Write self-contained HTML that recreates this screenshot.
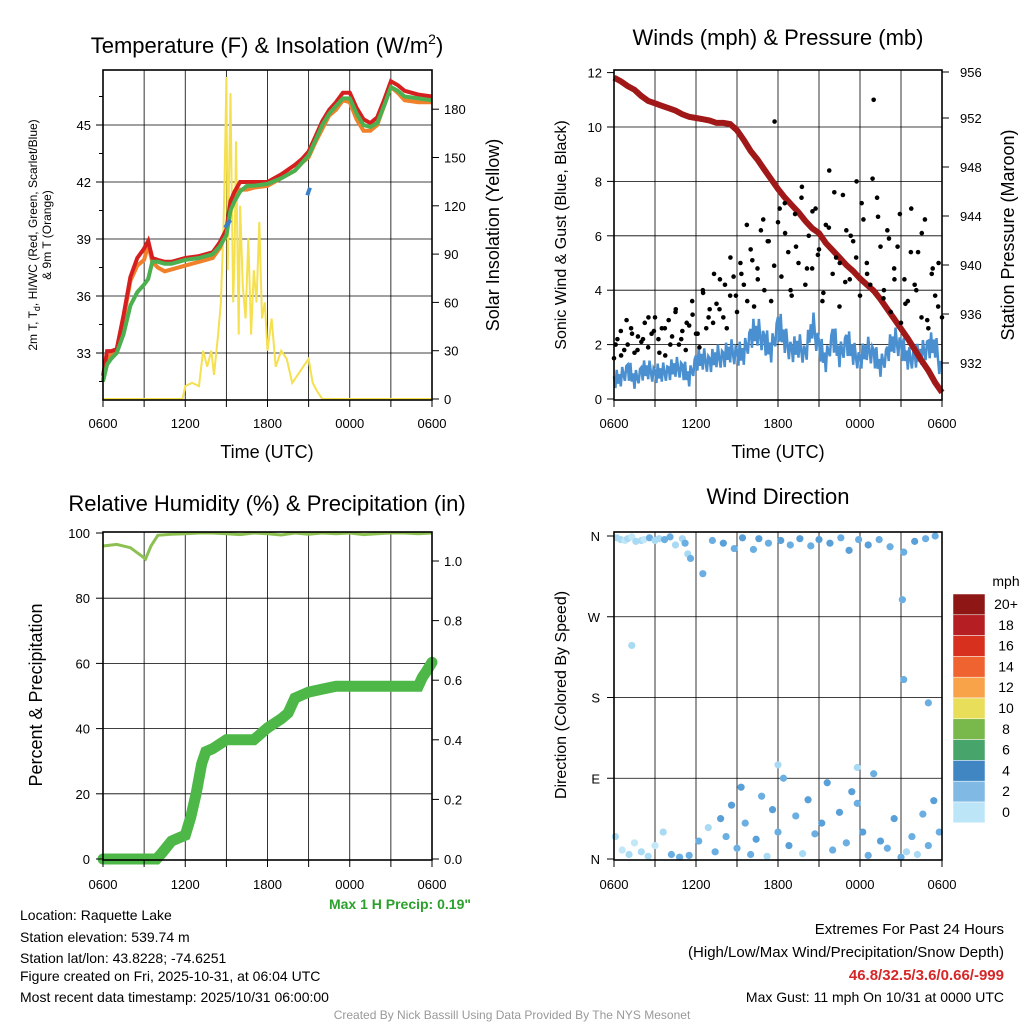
<!DOCTYPE html>
<html><head><meta charset="utf-8"><style>
body{margin:0;background:#fff}
svg{display:block;font-family:"Liberation Sans",sans-serif}
</style></head><body>
<svg id="s" width="1024" height="1024" viewBox="0 0 1024 1024">
<rect width="1024" height="1024" fill="#fff"/>
<g id="g"></g>
<text x="267" y="53" font-size="22" text-anchor="middle">Temperature (F) &amp; Insolation (W/m<tspan dy="-9" font-size="14">2</tspan><tspan dy="9">)</tspan></text>
<text x="778" y="45" font-size="22" text-anchor="middle">Winds (mph) &amp; Pressure (mb)</text>
<text x="267" y="511" font-size="22" text-anchor="middle">Relative Humidity (%) &amp; Precipitation (in)</text>
<text x="778" y="504" font-size="22" text-anchor="middle">Wind Direction</text>
<text x="267" y="458" font-size="18" text-anchor="middle">Time (UTC)</text>
<text x="778" y="458" font-size="18" text-anchor="middle">Time (UTC)</text>
<text transform="translate(37,235) rotate(-90)" font-size="12" text-anchor="middle">2m T, T<tspan font-size="9" dy="3">d</tspan><tspan dy="-3">, HI/WC (Red, Green, Scarlet/Blue)</tspan></text>
<text transform="translate(51,235) rotate(-90)" font-size="12" text-anchor="middle">&amp; 9m T (Orange)</text>
<text transform="translate(499,235) rotate(-90)" font-size="18" text-anchor="middle">Solar Insolation (Yellow)</text>
<text transform="translate(566,235) rotate(-90)" font-size="16" text-anchor="middle">Sonic Wind &amp; Gust (Blue, Black)</text>
<text transform="translate(1014,235) rotate(-90)" font-size="18" text-anchor="middle">Station Pressure (Maroon)</text>
<text transform="translate(42,695) rotate(-90)" font-size="18" text-anchor="middle">Percent &amp; Precipitation</text>
<text transform="translate(566,695) rotate(-90)" font-size="16" text-anchor="middle">Direction (Colored By Speed)</text>
<text x="471" y="909" font-size="14" font-weight="bold" fill="#2ca02c" text-anchor="end">Max 1 H Precip: 0.19"</text>
<g font-size="14">
<text x="20" y="920">Location: Raquette Lake</text>
<text x="20" y="942">Station elevation: 539.74 m</text>
<text x="20" y="963">Station lat/lon: 43.8228; -74.6251</text>
<text x="20" y="981">Figure created on Fri, 2025-10-31, at 06:04 UTC</text>
<text x="20" y="1002">Most recent data timestamp: 2025/10/31 06:00:00</text>
</g>
<g font-size="15" text-anchor="end">
<text x="1004" y="934">Extremes For Past 24 Hours</text>
<text x="1004" y="957">(High/Low/Max Wind/Precipitation/Snow Depth)</text>
<text x="1004" y="980" font-weight="bold" fill="#d62728">46.8/32.5/3.6/0.66/-999</text>
<text x="1004" y="1002" font-size="14">Max Gust: 11 mph On 10/31 at 0000 UTC</text>
</g>
<text x="512" y="1019" font-size="12" fill="#999" text-anchor="middle">Created By Nick Bassill Using Data Provided By The NYS Mesonet</text>
</svg>
<script>
const xTickLabels=["0600","1200","1800","0000","0600"];
const tT=[0,0.3,0.6,1,1.5,2,2.5,3,3.3,3.6,4,4.5,5,6,7,8,8.5,9,9.3,9.6,10,10.5,11,12,13,14,14.5,15,15.5,16,16.5,17,17.5,18,18.5,19,19.5,20,20.5,21,21.5,22,23,24];
const tempGreen=[31.5,32.4,32.7,33.0,34.0,35.5,36.2,36.6,36.9,37.8,37.8,37.7,37.7,37.9,38.0,38.2,38.6,39.2,40.5,41.0,41.5,41.8,41.8,41.9,42.2,42.6,43.0,43.4,44.2,45.0,45.6,46.0,46.4,46.4,45.6,45.0,44.9,45.1,46.0,47.0,46.8,46.5,46.4,46.3];
const tempRed=[31.8,33.1,33.1,33.2,35,37,38,38.5,38.9,38.0,37.9,37.8,37.8,38.0,38.1,38.3,38.8,39.5,41,41.5,42.0,42.0,42.0,42.0,42.4,42.9,43.2,43.6,44.4,45.2,45.8,46.2,46.7,46.7,45.9,45.3,45.1,45.4,46.3,47.3,47.1,46.8,46.6,46.5];
const tempOrange=[31.6,32.7,32.9,33.1,34.8,36.8,37.6,37.9,38.7,37.8,37.5,37.3,37.4,37.6,37.8,38.0,38.5,39.3,40.8,41.2,41.6,41.6,41.7,41.8,42.2,42.6,43.0,43.3,44.1,44.8,45.5,45.8,46.3,46.2,45.3,44.7,44.7,45.0,46.0,47.0,46.7,46.3,46.2,46.2];
const hiwcT=[8.9,9.1,9.3,null,14.9,15.0,15.1];
const hiwcV=[39.6,39.8,40.0,null,41.3,41.5,41.7];
const tS=[0,5.8,6.0,6.5,7.0,7.3,7.6,7.9,8.1,8.4,8.6,8.8,8.9,9.0,9.1,9.2,9.3,9.4,9.5,9.6,9.7,9.8,9.9,10.0,10.2,10.4,10.6,10.8,11.0,11.2,11.4,11.6,11.8,12.0,12.3,12.6,13.0,13.4,13.8,14.2,14.6,15.0,15.3,15.6,16.0,24];
const solar=[0,0,8,10,8,30,20,30,15,40,60,110,150,200,80,140,190,120,60,90,160,100,40,120,70,50,100,40,80,60,110,50,60,30,50,20,30,25,10,15,20,25,10,5,0,0];
const tempTicks=[33,36,39,42,45];
const solarTicks=[0,30,60,90,120,150,180];
const wind=[0.6,0.8,1.0,0.7,0.9,1.1,0.8,1.0,0.9,1.2,1.0,0.8,1.3,1.5,1.2,1.6,1.4,1.8,1.5,1.7,2.2,2.5,2.0,1.8,2.6,2.2,1.6,2.0,1.5,2.8,1.8,1.4,2.2,1.6,2.0,1.7,1.3,1.9,1.5,1.2,1.6,2.2,1.8,1.5,1.4,1.7,1.8,2.0,0.8];
const windWiggle=[0.3,-0.3,0.5,-0.2,0.2,-0.4,0.4,0,-0.3,0.3];
const gust=[1.5,2.2,2.5,1.8,2.0,2.6,1.7,2.3,2.1,2.8,1.9,2.4,3.0,2.2,2.6,1.6,2.9,2.3,3.2,2.0,2.5,1.8,2.7,3.1,2.4,1.9,4.0,2.6,3.3,2.8,3.5,4.4,3.0,2.6,3.8,4.5,3.2,5.0,4.2,3.6,5.5,3.4,4.8,6.2,4.0,5.8,3.6,10.2,6.5,4.5,7.2,5.4,3.8,6.8,5.0,7.8,4.2,6.0,4.8,7.0,5.5,3.6,6.4,8.4,4.6,5.2,3.4,7.5,6.2,4.4,5.8,8.0,3.8,6.6,5.0,4.2,11.0,7.4,5.6,4.0,6.2,3.2,4.8,5.6,2.8,4.4,3.6,7.0,4.2,5.4,3.0,6.6,2.6,4.6,3.8,5.0,3.0];
const gust2=[2.0,1.6,2.9,2.4,1.8,2.2,3.0,2.5,1.7,2.6,2.0,3.3,2.2,2.8,3.6,2.4,3.9,3.0,4.6,3.3,4.2,5.2,3.8,4.6,6.4,5.1,4.4,6.6,5.8,4.9,7.0,6.1,4.0,5.6,7.4,4.8,6.9,5.3,3.9,6.3,7.6,5.0,4.3,6.0,5.2,7.2,4.6,8.1,6.7,3.7,5.9,4.4,6.8,3.5,5.4,4.0,6.1,2.9,4.8,3.4];
const pressure=[955.3,955.0,954.6,954.3,953.8,953.4,953.2,953.0,952.8,952.6,952.3,952.1,952.0,951.9,951.8,951.6,951.6,951.5,951.0,950.2,949.3,948.6,947.8,947.0,946.2,945.5,944.9,944.3,943.6,943.0,942.6,941.8,941.2,940.6,940.0,939.5,938.9,938.4,937.9,937.2,936.4,935.6,934.8,934.0,933.1,932.2,931.4,930.4,929.6];
const windTicks=[0,2,4,6,8,10,12];
const presTicks=[932,936,940,944,948,952,956];
const tR=[0,1,2,2.8,3.1,3.5,4,5,6,7,8,9,10,11,12,13,14,15,16,17,18,19,20,21,22,23,24];
const rh=[96,96.5,95.5,93,92,96,99.3,99.6,99.8,100,100,99.8,99.5,100,99.8,99.4,100,99.6,100,99.8,100,99.5,99.8,100,100,99.8,100];
const tP=[0,3.9,4.3,5,5.5,6,6.4,6.8,7.2,7.5,8,9,10,11,12,13,13.5,14,15,16,17,20,23,23.3,23.6,24];
const precip=[0,0,0.02,0.06,0.07,0.08,0.14,0.22,0.32,0.36,0.37,0.4,0.4,0.4,0.44,0.47,0.49,0.54,0.56,0.57,0.58,0.58,0.58,0.61,0.63,0.66];
const pctTicks=[0,20,40,60,80,100];
const inTicks=[0.0,0.2,0.4,0.6,0.8,1.0];
const dirT=[0.2,0.5,0.8,1.0,1.3,1.6,2.0,2.2,2.6,3.0,3.3,3.7,4.1,4.5,5.0,5.2,0.1,0.6,1.1,1.5,2.0,2.5,3.0,3.6,4.2,4.8,5.5,6.2,6.9,7.4,7.8,8.2,8.6,9.0,9.3,9.6,10.0,10.4,10.8,11.2,11.6,12.0,12.4,12.8,13.3,13.8,14.2,14.7,15.2,15.6,16.0,16.5,17.0,17.4,17.8,18.2,18.6,19.0,19.5,20.0,20.5,21.0,21.4,21.8,22.2,22.6,23.0,23.4,23.8,5.4,5.6,6.5,7.2,8.0,8.8,9.4,10.2,10.6,11.3,12.2,12.9,13.6,14.4,15.0,15.8,16.6,17.2,17.9,18.6,19.4,20.2,21.2,22.0,22.8,23.5,1.3,21.1,21.2,23.0,12.0,17.8];
const dirV=[358,356,355,357,359,354,355,356,358,355,357,356,359,350,357,352,25,10,5,18,8,3,15,30,5,2,4,20,35,8,45,25,60,12,80,40,5,22,70,3,55,30,90,15,48,6,66,28,40,85,10,52,18,75,62,30,4,95,20,12,45,2,8,25,5,50,15,65,30,340,335,318,355,352,346,358,345,357,352,355,350,357,349,356,352,358,344,356,350,356,348,342,354,357,360,238,289,200,174,105,102];
const dirS=[1,1,0,1,0,1,1,0,2,1,1,2,2,1,1,2,1,0,1,0,1,1,0,1,2,2,2,2,1,2,3,2,3,2,3,2,2,3,2,1,3,2,2,3,2,1,3,2,3,3,2,3,2,3,2,3,2,2,3,2,3,2,1,2,1,2,2,3,2,1,2,2,2,3,2,3,2,3,2,3,2,3,2,3,3,2,3,2,3,2,2,2,3,2,2,1,2,2,2,1,1];
const cbarLabels=["20+","18","16","14","12","10","8","6","4","2","0"];
const cbarColors=["#8e1716","#b51f24","#d7301f","#ef6330","#f8a24a","#e8de5a","#79b84a","#47a46a","#3f86c2","#80b9e4","#bde5f8"];
const dotColors=["#c2e7f8","#a9daf4","#6aaee2","#5aa0d8"];

const NS="http://www.w3.org/2000/svg";
const g=document.getElementById('g');
function mk(tag,attrs,name){const e=document.createElementNS(NS,tag);for(const k in attrs)e.setAttribute(k,attrs[k]);


g.appendChild(e);return e;}
function txt(x,y,s,anchor,name,size){const e=mk('text',{x:x,y:y,'font-size':size||13,'text-anchor':anchor},name);e.textContent=s;return e;}
function path(xs,ys,fx,fy){let d='',pen=false;for(let i=0;i<xs.length;i++){if(xs[i]===null||ys[i]===null){pen=false;continue;}d+=(pen?'L':'M')+fx(xs[i]).toFixed(1)+','+fy(ys[i]).toFixed(1);pen=true;}return d;}

function frame(x0,y0,x1,y1,xGrid,yGrid,name){
  xGrid.forEach(x=>mk('line',{x1:x,x2:x,y1:y0,y2:y1,stroke:'#000','stroke-width':0.8},name+'-vgrid'));
  yGrid.forEach(y=>mk('line',{x1:x0,x2:x1,y1:y,y2:y,stroke:'#000','stroke-width':0.8},name+'-hgrid'));
}
function border(x0,y0,x1,y1,name){mk('rect',{x:x0,y:y0,width:x1-x0,height:y1-y0,fill:'none',stroke:'#000','stroke-width':1.6},name+'-frame');}
function xAxis(x0,x1,y1,name,off){for(let i=0;i<=8;i++){const x=x0+(x1-x0)*i/8;mk('line',{x1:x,x2:x,y1:y1,y2:y1+7,stroke:'#000'},name+'-xtick');}
 xTickLabels.forEach((s,i)=>txt(x0+(x1-x0)*i/4,y1+off,s,'middle',name+'-xlabel'));}

// Panel 1
{const x0=103,x1=432,y0=70,y1=400;
const X=t=>x0+t*(x1-x0)/24, YL=v=>353-(v-33)*19, YR=v=>399-v*48.3/30;
const vg=[];for(let i=1;i<8;i++)vg.push(X(i*3));
frame(x0,y0,x1,y1,vg,tempTicks.map(YL),'temp');
mk('path',{d:path(tS,solar,X,YR),fill:'none',stroke:'#f5e050','stroke-width':2},'solar-line');
mk('path',{d:path(tT,tempOrange,X,YL),fill:'none',stroke:'#f0802a','stroke-width':4},'temp-9m-line');
mk('path',{d:path(tT,tempRed,X,YL),fill:'none',stroke:'#d62020','stroke-width':4},'temp-2m-line');
mk('path',{d:path(tT,tempGreen,X,YL),fill:'none',stroke:'#4caf50','stroke-width':4},'dewpoint-line');
mk('path',{d:path(hiwcT,hiwcV,X,YL),fill:'none',stroke:'#3a80c8','stroke-width':4},'hiwc-line');
border(x0,y0,x1,y1,'temp');
tempTicks.forEach(v=>{mk('line',{x1:x0-7,x2:x0,y1:YL(v),y2:YL(v),stroke:'#000'},'temp-ytick');txt(x0-12,YL(v)+5,String(v),'end','temp-ylabel');});
for(let v=31.5;v<48;v+=1.5){if(v%3)mk('line',{x1:x0-4,x2:x0,y1:YL(v),y2:YL(v),stroke:'#000'},'temp-minor-tick');}
solarTicks.forEach(v=>{mk('line',{x1:x1,x2:x1+7,y1:YR(v),y2:YR(v),stroke:'#000'},'solar-ytick');txt(x1+12,YR(v)+5,String(v),'start','solar-ylabel');});
xAxis(x0,x1,y1,'temp',28);}

// Panel 2
{const x0=614,x1=942,y0=70,y1=400;
const X=t=>x0+t*(x1-x0)/24, YL=v=>399-v*27.2, YR=p=>363-(p-932)*12.25;
const vg=[];for(let i=1;i<8;i++)vg.push(X(i*3));
frame(x0,y0,x1,y1,vg,windTicks.slice(1,6).map(YL),'wind');
const tw=wind.map((_,i)=>i*0.5);
const tw2=[],w2=[];
for(let i=0;i<wind.length-1;i++){for(let k=0;k<5;k++){tw2.push(tw[i]+k*0.1);w2.push(Math.max(0.1,wind[i]+(wind[i+1]-wind[i])*k/5+windWiggle[(i*5+k)%10]*(0.6+wind[i]*0.3)));}}
mk('path',{d:path(tw2,w2,X,YL),fill:'none',stroke:'#4a90d0','stroke-width':2.5},'wind-line');
const tp=pressure.map((_,i)=>i*0.5);
mk('path',{d:path(tp,pressure,X,YR),fill:'none',stroke:'#a01818','stroke-width':6},'pressure-line');
gust.forEach((v,i)=>mk('circle',{cx:X(i*0.25),cy:YL(v),r:2.3,fill:'#000'},'gust-point'));
gust2.forEach((v,i)=>mk('circle',{cx:X(0.12+i*0.4),cy:YL(v),r:2.3,fill:'#000'},'gust-point'));
border(x0,y0,x1,y1,'wind');
windTicks.forEach(v=>{mk('line',{x1:x0-7,x2:x0,y1:YL(v),y2:YL(v),stroke:'#000'},'wind-ytick');txt(x0-12,YL(v)+5,String(v),'end','wind-ylabel');});
presTicks.forEach(v=>{const y=v===956?72:YR(v);mk('line',{x1:x1,x2:x1+7,y1:y,y2:y,stroke:'#000'},'pres-ytick');txt(x1+18,y+5,String(v),'start','pres-ylabel');});
xAxis(x0,x1,y1,'wind',28);}

// Panel 3
{const x0=103,x1=432,y0=532,y1=860;
const X=t=>x0+t*(x1-x0)/24, YL=v=>859-v*3.26, YR=v=>859-v*298;
const vg=[];for(let i=1;i<8;i++)vg.push(X(i*3));
frame(x0,y0,x1,y1,vg,pctTicks.slice(1,5).map(YL),'rh');
mk('path',{d:path(tR,rh,X,YL),fill:'none',stroke:'#8cc152','stroke-width':3},'rh-line');
mk('path',{d:path(tP,precip,X,YR),fill:'none',stroke:'#4db848','stroke-width':11,'stroke-linecap':'round'},'precip-line');
border(x0,y0,x1,y1,'rh');
pctTicks.forEach(v=>{mk('line',{x1:x0-7,x2:x0,y1:YL(v),y2:YL(v),stroke:'#000'},'rh-ytick');txt(x0-13,YL(v)+5,String(v),'end','rh-ylabel');});
inTicks.forEach(v=>{mk('line',{x1:x1,x2:x1+7,y1:YR(v),y2:YR(v),stroke:'#000'},'precip-ytick');txt(x1+12,YR(v)+5,v.toFixed(1),'start','precip-ylabel');});
xAxis(x0,x1,y1,'rh',29);}

// Panel 4
{const x0=614,x1=942,y0=532,y1=860;
const X=t=>x0+t*(x1-x0)/24, Y=d=>859-d*323/360;
const vg=[];for(let i=1;i<8;i++)vg.push(X(i*3));
frame(x0,y0,x1,y1,vg,[90,180,270].map(Y),'wdir');
dirT.forEach((t,i)=>mk('circle',{cx:X(t),cy:Y(dirV[i]),r:3.6,fill:dotColors[dirS[i]]},'wdir-point'));
border(x0,y0,x1,y1,'wdir');
["N","E","S","W","N"].forEach((s,i)=>{const y=Y(i*90);mk('line',{x1:x0-7,x2:x0,y1:y,y2:y,stroke:'#000'},'wdir-ytick');txt(x0-14,y+5,s,'end','wdir-ylabel');});
xAxis(x0,x1,y1,'wdir',29);
txt(1006,586,'mph','middle','cbar-title',14);
cbarLabels.forEach((s,i)=>{mk('rect',{x:953,y:594+i*20.8,width:32,height:20.8,fill:cbarColors[i],stroke:'#fff','stroke-width':0.5},'cbar-box');txt(1006,609+i*20.8,s,'middle','cbar-label',14);});}
</script>
</body></html>
